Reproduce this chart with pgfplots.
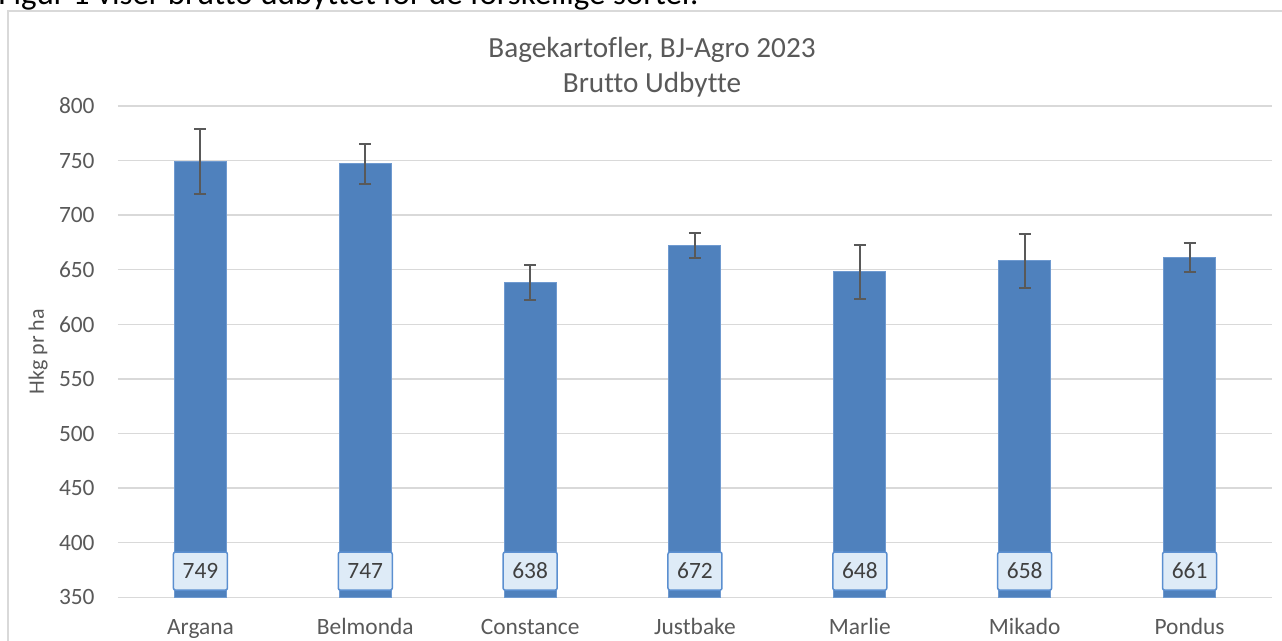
\documentclass[border=0pt]{standalone}
\usepackage{fontspec}
\setmainfont{Carlito}[Ligatures=NoCommon]
\usepackage{pgfplots}
\usepackage{pgfplotstable}
\pgfplotsset{compat=1.18}

\definecolor{barblue}{HTML}{4F81BD}
\definecolor{baredge}{HTML}{6F9AD0}
\definecolor{gridgray}{HTML}{D9D9D9}
\definecolor{txtgray}{HTML}{595959}
\definecolor{lblfill}{HTML}{DEEBF7}
\definecolor{lbledge}{HTML}{5B8FD0}
\definecolor{lbltxt}{HTML}{404040}

% x, brutto udbytte, std-afvigelse, label-hoejde
\pgfplotstableread{
x y err ly lab
0 749 29.5 374 749
1 747 18.5 374 747
2 638 16.0 374 638
3 672 11.5 374 672
4 648 25.0 374 648
5 658 24.5 374 658
6 661 13.5 374 661
}\udbytte

\begin{document}
\begin{tikzpicture}
\useasboundingbox (0,0) rectangle (641pt,-320.5pt);
\clip (0,0) rectangle (641pt,-320.5pt);

\node[anchor=base west, inner sep=0pt] at (-1pt,-2.4pt)
  {\fontsize{16.5}{19}\selectfont Figur 1 viser brutto udbyttet for de forskellige sorter.};
\draw[gridgray, line width=0.75pt] (4pt,-400pt) -- (4pt,-5.6pt) -- (700pt,-5.6pt);

\begin{axis}[
  at={(59pt,-298.65pt)}, anchor=south west,
  scale only axis, width=577pt, height=245.7pt,
  xmin=-0.5, xmax=6.5, ymin=350, ymax=800,
  ytick={350,400,...,800},
  xtick={0,...,6},
  xticklabels={Argana,Belmonda,Constance,Justbake,Marlie,Mikado,Pondus},
  axis line style={draw=none},
  major tick length=0pt,
  ymajorgrids, grid style={gridgray, line width=0.75pt},
  tick label style={font=\fontsize{11.7}{13}\selectfont, text=txtgray},
  /pgf/number format/assume math mode=true,
  yticklabel style={anchor=east, inner sep=0pt, xshift=-11.5pt},
  xticklabel style={anchor=base, inner sep=0pt, yshift=-18.85pt},
  ylabel={Hkg pr ha},
  ylabel style={at={(axis description cs:-0.0693,0.5)}, anchor=center,
    font=\fontsize{11}{13}\selectfont, text=txtgray},
]
\addplot[ybar, bar width=26pt, fill=barblue, draw=baredge, line width=0.5pt,
  error bars/.cd, y dir=both, y explicit,
  error bar style={txtgray, line width=1pt},
  error mark options={rotate=90, mark size=3pt, txtgray, line width=1pt}]
  table[x=x, y=y, y error=err] {\udbytte};

\addplot[draw=none, mark=none, nodes near coords, point meta=explicit symbolic,
  nodes near coords style={anchor=center, draw=lbledge, fill=lblfill, line width=0.75pt,
    rounded corners=1pt, minimum width=27pt, minimum height=19pt, inner sep=0pt,
    font=\fontsize{11.7}{13}\selectfont, text=lbltxt}]
  table[x=x, y=ly, meta=lab] {\udbytte};
\end{axis}

\node[anchor=base, text=txtgray, font=\fontsize{14.6}{16}\selectfont] at (326pt,-28.65pt)
  {Bagekartofler, BJ-Agro 2023};
\node[anchor=base, text=txtgray, font=\fontsize{14.6}{16}\selectfont] at (326pt,-46.35pt)
  {Brutto Udbytte};
\end{tikzpicture}
\end{document}
